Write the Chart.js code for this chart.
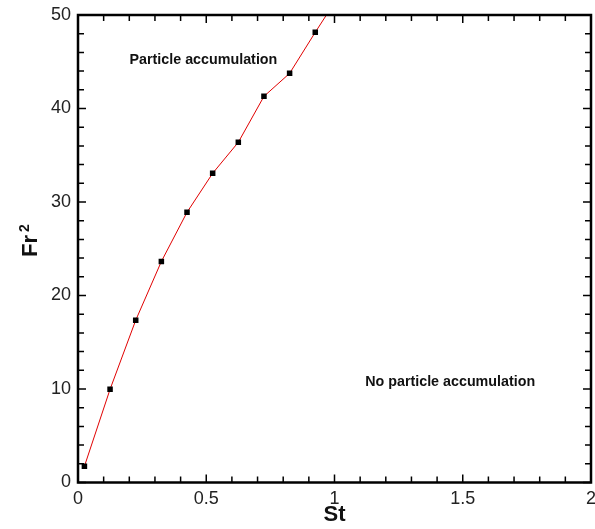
<!DOCTYPE html>
<html>
<head>
<meta charset="utf-8">
<script src="https://cdn.jsdelivr.net/npm/chart.js@4"></script>
<style>
  html, body { margin: 0; padding: 0; background: #fff; }
  #wrap { width: 595px; height: 529px; }
</style>
</head>
<body>
<div id="wrap"><canvas id="myChart" width="595" height="529"></canvas></div>
<script>
// data
var stValues = [0.025, 0.125, 0.225, 0.325, 0.425, 0.525, 0.625, 0.725, 0.825, 0.925, 1.025];
var fr2Values = [1.73, 9.97, 17.35, 23.64, 28.9, 33.07, 36.39, 41.3, 43.76, 48.15, 52.4];
var xTicks = [0, 0.5, 1, 1.5, 2];
var xTickLabels = ["0", "0.5", "1", "1.5", "2"];
var yTicks = [0, 10, 20, 30, 40, 50];
var noteTexts = ["Particle accumulation", "No particle accumulation"];
var noteX = [0.489, 1.451];
var noteY = [45.2, 10.75];

var points = stValues.map(function (v, i) { return { x: v, y: fr2Values[i] }; });

// frame, inward ticks, titles and notes
var framePlugin = {
  id: "frame",
  afterDraw: function (chart) {
    var ctx = chart.ctx;
    var a = chart.chartArea;
    var xs = chart.scales.x, ys = chart.scales.y;
    ctx.save();
    ctx.strokeStyle = "#000";
    ctx.lineWidth = 1.5;
    // minor / major ticks on all four sides
    for (var i = 0; i <= 20; i++) {
      var px = xs.getPixelForValue(i / 10);
      var len = (i % 5 == 0) ? 8 : 6;
      ctx.beginPath();
      ctx.moveTo(px, a.bottom); ctx.lineTo(px, a.bottom - len);
      ctx.moveTo(px, a.top); ctx.lineTo(px, a.top + len);
      ctx.stroke();
    }
    for (var j = 0; j <= 25; j++) {
      var py = ys.getPixelForValue(j * 2);
      var len2 = (j % 5 == 0) ? 8 : 6;
      ctx.beginPath();
      ctx.moveTo(a.left, py); ctx.lineTo(a.left + len2, py);
      ctx.moveTo(a.right, py); ctx.lineTo(a.right - len2, py);
      ctx.stroke();
    }
    ctx.lineWidth = 2.5;
    ctx.strokeRect(a.left, a.top, a.right - a.left, a.bottom - a.top);

    // notes
    ctx.fillStyle = "#111";
    ctx.font = "bold 14.3px 'Liberation Sans', Arial, sans-serif";
    ctx.textAlign = "center";
    ctx.textBaseline = "middle";
    noteTexts.forEach(function (t, k) {
      ctx.fillText(t, xs.getPixelForValue(noteX[k]), ys.getPixelForValue(noteY[k]));
    });

    // x title
    ctx.font = "bold 22px 'Liberation Sans', Arial, sans-serif";
    ctx.fillText("St", (a.left + a.right) / 2, 515);

    // y title with raised 2
    ctx.translate(37, 246);
    ctx.rotate(-Math.PI / 2);
    ctx.textAlign = "center";
    ctx.textBaseline = "alphabetic";
    ctx.fillText("Fr", 0, 0);
    ctx.font = "bold 14px 'Liberation Sans', Arial, sans-serif";
    ctx.textAlign = "left";
    ctx.fillText("2", 14, -8);
    ctx.restore();
  }
};

new Chart("myChart", {
  type: "scatter",
  data: {
    datasets: [{
      data: points,
      showLine: true,
      borderColor: "#e00000",
      borderWidth: 1,
      pointStyle: "rect",
      pointRadius: 3.9,
      pointBackgroundColor: "#000",
      pointBorderColor: "#000",
      pointBorderWidth: 0
    }]
  },
  options: {
    responsive: false,
    animation: false,
    layout: { padding: { top: 15, right: 3.5, left: 0, bottom: 0 } },
    plugins: { legend: { display: false }, tooltip: { enabled: false } },
    scales: {
      x: {
        type: "linear",
        min: 0, max: 2,
        afterBuildTicks: function (s) { s.ticks = xTicks.map(function (v) { return { value: v }; }); },
        afterFit: function (s) { s.height = 46.5; s.paddingLeft = 0; s.paddingRight = 0; },
        grid: { display: false, drawTicks: false },
        border: { display: false },
        ticks: {
          padding: 6,
          color: "#222",
          maxRotation: 0,
          callback: function (v) { return xTickLabels[xTicks.indexOf(v)]; },
          font: { family: "'Liberation Sans', Arial, sans-serif", size: 18 }
        }
      },
      y: {
        type: "linear",
        min: 0, max: 50,
        afterBuildTicks: function (s) { s.ticks = yTicks.map(function (v) { return { value: v }; }); },
        afterFit: function (s) { s.width = 78; s.paddingTop = 0; s.paddingBottom = 0; },
        grid: { display: false, drawTicks: false },
        border: { display: false },
        ticks: {
          padding: 7,
          color: "#222",
          font: { family: "'Liberation Sans', Arial, sans-serif", size: 18 }
        }
      }
    }
  },
  plugins: [framePlugin]
});
</script>
</body>
</html>
